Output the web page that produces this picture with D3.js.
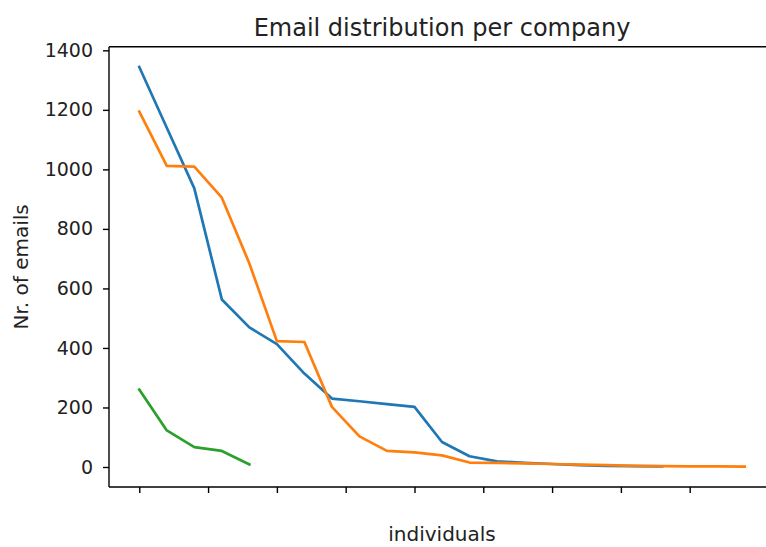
<!DOCTYPE html>
<html lang="en">
<head>
    <meta charset="UTF-8">
    <title>Email distribution per company</title>
    <script src="https://d3js.org/d3.v7.min.js"></script>
    <style>
        body { margin: 0; background: #fff; }
        svg { display: block; font-family: "DejaVu Sans", sans-serif; }
    </style>
</head>
<body>
    <svg></svg>

    <script>
        const width = 766;
        const height = 547;

        // emails per individual, sorted, one array per company
        const companyA = [1344, 1140, 936, 563, 469, 413, 314, 230, 221, 211, 202, 84, 36, 19, 14, 10, 6, 4, 3, 2];
        const companyB = [1194, 1012, 1009, 905, 684, 423, 420, 202, 103, 54, 49, 39, 15, 14, 12, 10, 8, 6, 4, 3, 2, 2, 1];
        const companyC = [260, 123, 67, 54, 9];
        const series = [companyA, companyB, companyC];
        const colors = ['#1f77b4', '#ff7f0e', '#2ca02c'];

        const yTicks = [0, 200, 400, 600, 800, 1000, 1200, 1400];
        const xTicks = [0, 2.5, 5, 7.5, 10, 12.5, 15, 17.5, 20];

        const plot = {'top': 46.7, 'bottom': 487, 'left': 109, 'right': 775};

        const svg = d3.select('svg')
            .attr('width', width)
            .attr('height', height)
            .attr('viewBox', [0, 0, width, height]);

        const x_scale = d3.scaleLinear().domain([-1.1, 23.1]).range([plot.left, plot.right]);
        const y_scale = d3.scaleLinear().domain([-67.2, 1412.2]).range([plot.bottom, plot.top]);

        // lines
        const line = d3.line()
            .x((d, i) => x_scale(i))
            .y(d => y_scale(d));

        svg.append('g')
            .selectAll('path')
            .data(series)
            .join('path')
            .attr('d', d => line(d))
            .attr('fill', 'none')
            .attr('stroke', (d, i) => colors[i])
            .attr('stroke-width', 2.7)
            .attr('stroke-linejoin', 'round')
            .attr('stroke-linecap', 'square');

        // axes
        const x_axis = d3.axisBottom(x_scale).tickValues(xTicks).tickFormat('').tickSize(6).tickSizeOuter(0);
        const y_axis = d3.axisLeft(y_scale).tickValues(yTicks).tickFormat(d3.format('d'))
            .tickSize(6).tickSizeOuter(0).tickPadding(10);

        const gx = svg.append('g')
            .attr('transform', `translate(0,${plot.bottom})`)
            .call(x_axis);

        const gy = svg.append('g')
            .attr('transform', `translate(${plot.left},0)`)
            .call(y_axis);

        [gx, gy].forEach(g => {
            g.select('.domain').remove();
            g.selectAll('line').attr('stroke', '#000').attr('stroke-width', 1.4);
            g.selectAll('text').attr('fill', '#222').style('font-size', '19px').style('font-family', '"DejaVu Sans", sans-serif');
        });

        // spines: left, bottom, top (right one falls outside the picture)
        const spines = svg.append('g').attr('stroke', '#000').attr('stroke-width', 1.4);
        spines.append('line').attr('x1', plot.left).attr('x2', plot.left).attr('y1', plot.top).attr('y2', plot.bottom);
        spines.append('line').attr('x1', plot.left).attr('x2', plot.right).attr('y1', plot.bottom).attr('y2', plot.bottom);
        spines.append('line').attr('x1', plot.left).attr('x2', plot.right).attr('y1', plot.top).attr('y2', plot.top);

        // labels
        svg.append('text')
            .attr('x', (plot.left + plot.right) / 2)
            .attr('y', 36)
            .attr('text-anchor', 'middle')
            .attr('fill', '#222')
            .style('font-size', '24px')
            .text('Email distribution per company');

        svg.append('text')
            .attr('x', (plot.left + plot.right) / 2)
            .attr('y', 541)
            .attr('text-anchor', 'middle')
            .attr('fill', '#222')
            .style('font-size', '20px')
            .text('individuals');

        svg.append('text')
            .attr('transform', `translate(28,${(plot.top + plot.bottom) / 2}) rotate(-90)`)
            .attr('text-anchor', 'middle')
            .attr('fill', '#222')
            .style('font-size', '20px')
            .text('Nr. of emails');
    </script>
</body>
</html>
